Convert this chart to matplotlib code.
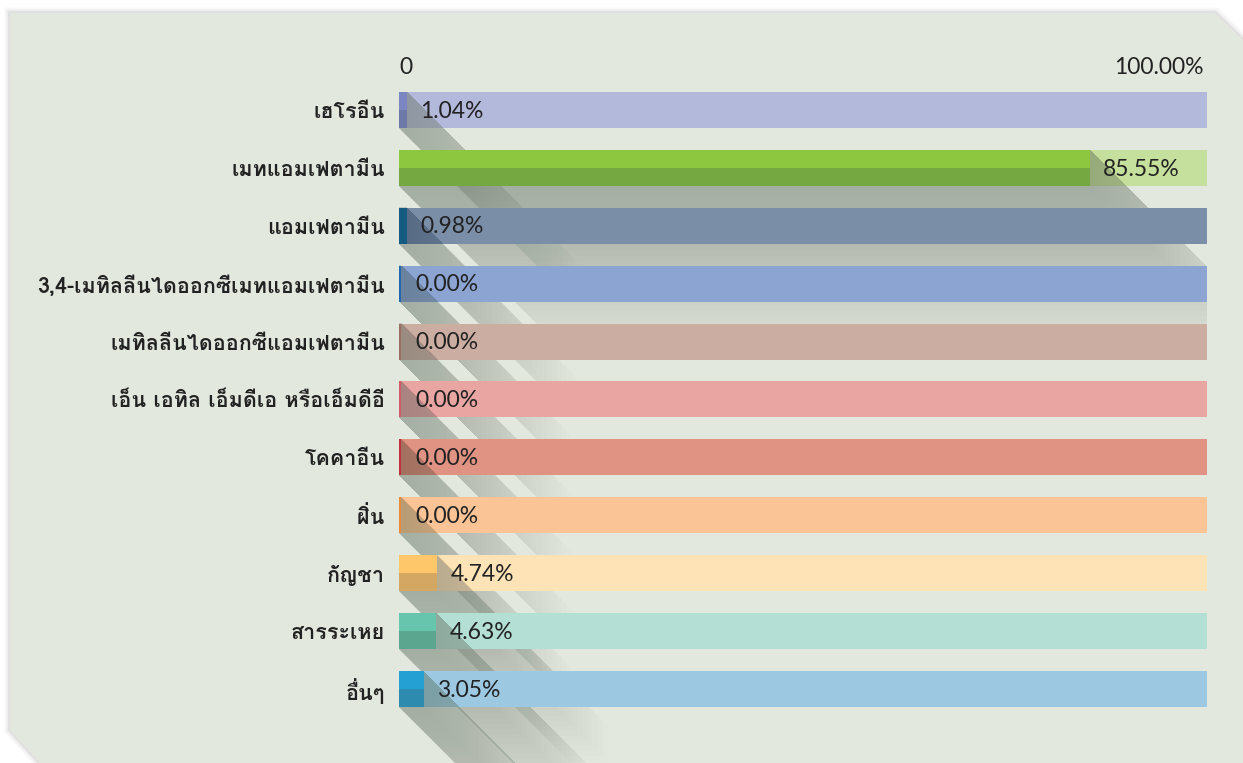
import matplotlib
matplotlib.use("Agg")
import matplotlib.pyplot as plt
from matplotlib.patches import Polygon, Rectangle

# data
labels = ["เฮโรอีน", "เมทแอมเฟตามีน", "แอมเฟตามีน", "3,4-เมทิลลีนไดออกซีเมทแอมเฟตามีน",
          "เมทิลลีนไดออกซีแอมเฟตามีน", "เอ็น เอทิล เอ็มดีเอ หรือเอ็มดีอี", "โคคาอีน",
          "ฝิ่น", "กัญชา", "สารระเหย", "อื่นๆ"]
values = [1.04, 85.55, 0.98, 0.00, 0.00, 0.00, 0.00, 0.00, 4.74, 4.63, 3.05]
axis_labels = ["0", "100.00%"]

track_colors = ["#b3b9db", "#c5e09c", "#7b8ea8", "#8ca4d2", "#ccada2", "#e8a5a2",
                "#e09382", "#fbc497", "#fde3b5", "#b3dfd4", "#9dc8e2"]
top_colors = ["#7b86c2", "#8dc63f", "#155a80", "#2166ae", "#9b6e63", "#d05a66",
              "#c0303a", "#e98b3a", "#fec86a", "#68c5ad", "#24a1d2"]
bottom_colors = ["#6e79a8", "#76a842", "#155a80", "#2166ae", "#9b6e63", "#d05a66",
                 "#c0303a", "#e98b3a", "#d4a862", "#5aa68f", "#2e8bb0"]

thai_font = ["Loma", "DejaVu Sans"]

W, H = 1243, 763
fig = plt.figure(figsize=(W / 100, H / 100), dpi=100)
fig.patch.set_facecolor("white")

# panel with cut corners (soft outline as a shadow)
pts = [(10, 13), (1215, 13), (1243, 40), (1243, 763), (40, 763), (10, 730)]
for lw, a in [(8, 0.03), (5, 0.04), (2.5, 0.06)]:
    fig.patches.append(Polygon([(x / W, 1 - y / H) for x, y in pts], closed=True,
                               transform=fig.transFigure, facecolor="none",
                               edgecolor="#000000", alpha=a, lw=lw, zorder=-11))
fig.patches.append(Polygon([(x / W, 1 - y / H) for x, y in pts], closed=True,
                           transform=fig.transFigure, facecolor="#e2e8de",
                           edgecolor="none", zorder=-10))

x0_px, x1_px = 399, 1207
top_px, step = 81, 57.9
n = len(labels)
ax = fig.add_axes([x0_px / W, 1 - (top_px + step * n) / H, (x1_px - x0_px) / W, step * n / H])
ax.set_xlim(0, 100)
ax.set_ylim(n - 0.5, -0.5)
ax.patch.set_alpha(0)
for s in ax.spines.values():
    s.set_visible(False)

px_x = (x1_px - x0_px) / 100.0   # pixels per percent
px_y = step                      # pixels per row
bh = 36 / step

# shadows are kept inside the track area
clip = Rectangle((0, -1), 100, n + 3, transform=ax.transData)

for i, (v, tc, c1, c2) in enumerate(zip(values, track_colors, top_colors, bottom_colors)):
    z = 10 + 3 * i
    ax.barh(i, 100, height=bh, color=tc, zorder=z)
    w = max(v, 0.3)
    top, bot = i - bh / 2, i + bh / 2
    # long soft shadow at 45 degrees, faded by stacking
    for L in range(5, 175, 5):
        dx, dy = L / px_x, L / px_y
        poly = Polygon([(0, top), (w, top), (w + dx, top + dy), (w + dx, bot + dy),
                        (dx, bot + dy), (0, bot)], closed=True,
                       facecolor="#2e3a2e", alpha=0.006, lw=0, zorder=z + 1)
        ax.add_patch(poly)
        poly.set_clip_path(clip)
    ax.barh(i - bh / 4, w, height=bh / 2, color=c1, zorder=z + 2)
    ax.barh(i + bh / 4, w, height=bh / 2, color=c2, zorder=z + 2)
    tx = max(v + 13 / px_x, 16 / px_x)
    ax.text(tx, i + 0.02, f"{v:.2f}%", va="center", ha="left", fontsize=16.5,
            family="Lato", color="#222222", zorder=60)

ax.set_yticks(range(n))
ax.set_yticklabels(labels, family=thai_font, fontsize=15.5,
                   fontweight="bold", color="#222222")
ax.tick_params(axis="y", length=0, pad=10)
ax.xaxis.tick_top()
ax.set_xticks([0, 99.6])
ax.set_xticklabels(axis_labels, fontsize=16.5, family="Lato", color="#222222")
ax.tick_params(axis="x", length=0, pad=2)
tl = ax.get_xticklabels()
tl[0].set_ha("left")
tl[1].set_ha("right")

fig.savefig("out.png", dpi=100, facecolor="white")
